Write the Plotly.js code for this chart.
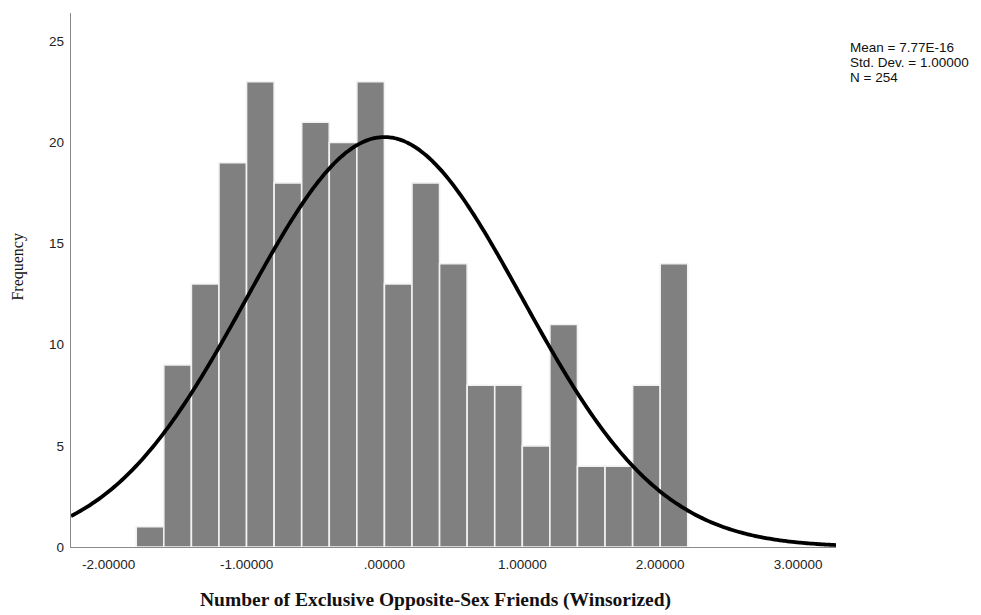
<!DOCTYPE html>
<html>
<head>
<meta charset="utf-8">
<script src="https://cdn.plot.ly/plotly-3.0.1.min.js"></script>
<style>html,body{margin:0;padding:0;background:#fff;}#chart{width:981px;height:615px;}</style>
</head>
<body>
<div id="chart"></div>
<script>
// Histogram bins (left edges) and frequencies
const binWidth = 0.2;
const binLeftEdges = [-1.8,-1.6,-1.4,-1.2,-1.0,-0.8,-0.6,-0.4,-0.2,0.0,0.2,0.4,0.6,0.8,1.0,1.2,1.4,1.6,1.8,2.0];
const frequencies = [1,9,13,19,23,18,21,20,23,13,18,14,8,8,5,11,4,4,8,14];

// Summary statistics shown in the chart
const statMean = 7.77e-16;
const statSD = 1.0;
const statN = 254;
const statLabels = ["Mean = 7.77E-16", "Std. Dev. = 1.00000", "N = 254"];

// Axis ticks
const xTickVals = [-2, -1, 0, 1, 2, 3];
const xTickText = ["-2.00000", "-1.00000", ".00000", "1.00000", "2.00000", "3.00000"];
const yTickVals = [0, 5, 10, 15, 20, 25];
const xRange = [-2.273, 3.275];
const yRange = [0, 26.4];

// Fitted normal curve defined by the stated mean, SD and N
const curveX = [];
const curveY = [];
const steps = 300;
for (let i = 0; i <= steps; i++) {
  const x = xRange[0] + (xRange[1] - xRange[0]) * i / steps;
  const z = (x - statMean) / statSD;
  curveX.push(x);
  curveY.push(statN * binWidth * Math.exp(-0.5 * z * z) / (statSD * Math.sqrt(2 * Math.PI)));
}

const barCenters = binLeftEdges.map(e => e + binWidth / 2);

const traces = [
  {
    type: 'bar',
    x: barCenters,
    y: frequencies,
    width: binWidth,
    marker: {color: '#808080', line: {color: '#f2f2f2', width: 1.6}},
    hoverinfo: 'x+y'
  },
  {
    type: 'scatter',
    mode: 'lines',
    x: curveX,
    y: curveY,
    line: {color: '#000000', width: 3.8, shape: 'spline'},
    hoverinfo: 'skip'
  }
];

const sans = 'Liberation Sans, Arial, sans-serif';
const serif = 'Liberation Serif, Times New Roman, serif';

// Stats box lines placed one per annotation (tight line spacing like the reference)
const statY = [0.9345, 0.9074, 0.880];
const statAnnotations = statLabels.map((t, i) => ({
  xref: 'paper', yref: 'paper',
  x: 1.0157, y: statY[i],
  xanchor: 'left', yanchor: 'middle', align: 'left',
  showarrow: false,
  text: t,
  font: {family: sans, size: 13.5, color: '#111'}
}));

const layout = {
  width: 981,
  height: 615,
  margin: {l: 71, r: 145, t: 13, b: 68},
  paper_bgcolor: '#ffffff',
  plot_bgcolor: '#ffffff',
  showlegend: false,
  bargap: 0,
  font: {family: sans, size: 13.5, color: '#222'},
  xaxis: {
    range: xRange,
    tickvals: xTickVals,
    ticktext: xTickText,
    ticks: '',
    showgrid: false,
    zeroline: false,
    showline: true,
    linecolor: '#8a8a8a',
    linewidth: 1.2,
    ticklabelstandoff: 5,
    tickfont: {family: sans, size: 13.5, color: '#222'}
  },
  yaxis: {
    range: yRange,
    tickvals: yTickVals,
    ticks: '',
    showgrid: false,
    zeroline: false,
    showline: true,
    linecolor: '#8a8a8a',
    linewidth: 1.2,
    ticklabelstandoff: 3,
    tickfont: {family: sans, size: 13.5, color: '#222'}
  },
  annotations: statAnnotations.concat([
    {
      xref: 'paper', yref: 'paper',
      x: 0.4765, y: -0.1,
      xanchor: 'center', yanchor: 'middle',
      showarrow: false,
      text: '<b>Number of Exclusive Opposite-Sex Friends (Winsorized)</b>',
      font: {family: serif, size: 19.5, color: '#111'}
    },
    {
      xref: 'paper', yref: 'paper',
      x: -0.069, y: 0.5255,
      xanchor: 'center', yanchor: 'middle',
      textangle: -90,
      showarrow: false,
      text: 'Frequency',
      font: {family: serif, size: 16, color: '#111'}
    }
  ])
};

Plotly.newPlot('chart', traces, layout, {displayModeBar: false, staticPlot: true});
</script>
</body>
</html>
